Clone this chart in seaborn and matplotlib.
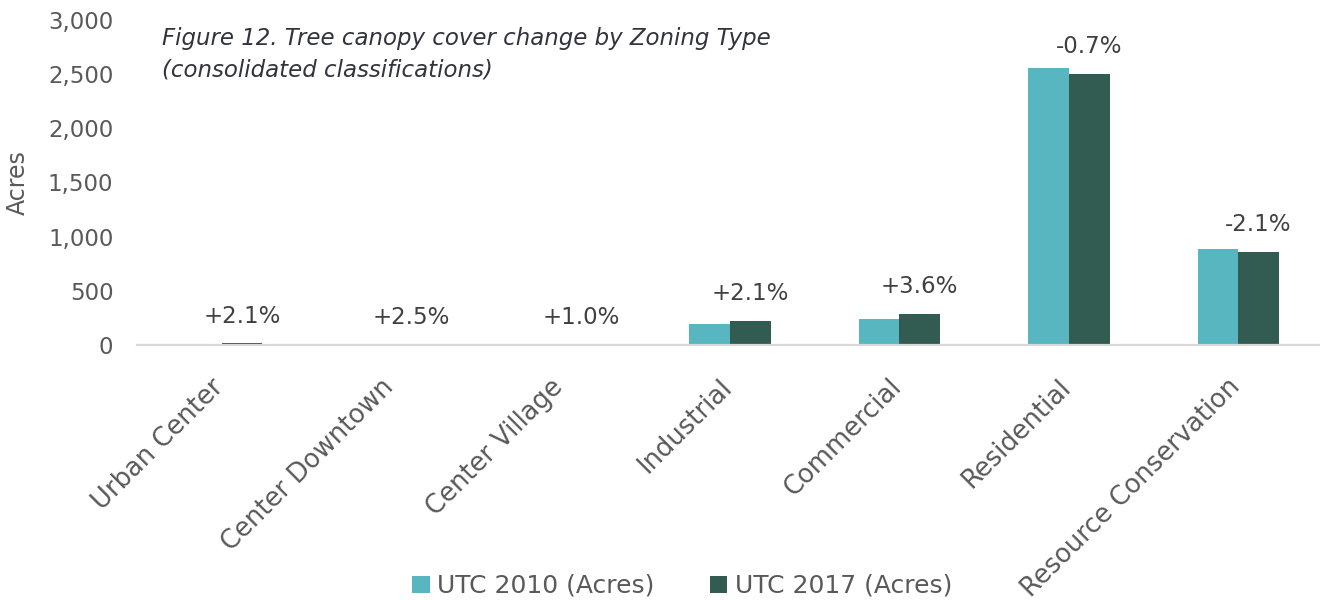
import matplotlib
matplotlib.use("Agg")
import matplotlib.pyplot as plt
import matplotlib.transforms as mtransforms
import seaborn as sns
import pandas as pd
from matplotlib.ticker import FuncFormatter, MultipleLocator
from matplotlib.patches import Patch

categories = ["Urban Center", "Center Downtown", "Center Village", "Industrial",
              "Commercial", "Residential", "Resource Conservation"]
utc_2010 = [6, 3, 4, 194, 240, 2557, 886]
utc_2017 = [15, 5, 5, 222, 290, 2503, 863]
change_labels = ["+2.1%", "+2.5%", "+1.0%", "+2.1%", "+3.6%", "-0.7%", "-2.1%"]
series_names = ["UTC 2010 (Acres)", "UTC 2017 (Acres)"]
colors = ["#58B6C0", "#325C52"]

sns.set_theme(style="white")
plt.rcParams['font.family'] = ['DejaVu Sans']

df = pd.DataFrame({
    "Zone": categories * 2,
    "Acres": utc_2010 + utc_2017,
    "Series": [series_names[0]] * len(categories) + [series_names[1]] * len(categories),
})

fig = plt.figure(figsize=(13.2, 6), dpi=100)
ax = fig.add_axes([137 / 1320, 1 - 345 / 600, (1323 - 137) / 1320, (345 - 20) / 600])

sns.barplot(data=df, x="Zone", y="Acres", hue="Series", palette=colors,
            width=0.48, saturation=1, linewidth=0, ax=ax, legend=False)

ax.set_ylim(0, 3000)
ax.set_xlim(-0.5, 6.5)
ax.yaxis.set_major_locator(MultipleLocator(500))
ax.yaxis.set_major_formatter(FuncFormatter(lambda v, p: f"{int(v):,}"))
for s in ["top", "right", "left"]:
    ax.spines[s].set_visible(False)
ax.spines["bottom"].set_color("#d9d9d9")
ax.spines["bottom"].set_linewidth(1.6)
ax.spines["bottom"].set_zorder(5)
ax.tick_params(axis="y", length=0, pad=17, labelsize=16.5, labelcolor="#595959")
ax.tick_params(axis="x", length=0, labelbottom=False)
ax.set_xlabel("")
ax.set_ylabel("Acres", fontsize=17, color="#595959")
ax.yaxis.set_label_coords(-0.09, 0.5)

# category labels, rotated 45 degrees, top-right corner anchored below each group
lab_tr = ax.get_xaxis_transform() + mtransforms.ScaledTranslation(-11 / 100, -29 / 100, fig.dpi_scale_trans)
for i, name in enumerate(categories):
    ax.text(i, 0, name, transform=lab_tr, rotation=45, rotation_mode="anchor",
            ha="right", va="top", fontsize=18.5, color="#595959")

for i, (v, lab) in enumerate(zip(utc_2017, change_labels)):
    ax.annotate(lab, xy=(i + 0.12, v), xytext=(0, 19.5), textcoords="offset points",
                ha="center", va="center", fontsize=16.5, color="#404040")

fig.text(162 / 1320, 1 - 27 / 600,
         "Figure 12. Tree canopy cover change by Zoning Type\n(consolidated classifications)",
         ha="left", va="top", fontsize=16.5, style="italic", color="#33333d",
         linespacing=1.45)

handles = [Patch(facecolor=c, edgecolor="none") for c in colors]
fig.legend(handles, series_names, loc="center", bbox_to_anchor=(682 / 1320, 1 - 586 / 600),
           ncol=2, frameon=False, fontsize=18, handlelength=0.7, handleheight=0.7,
           handletextpad=0.3, columnspacing=2.2, labelcolor="#595959")

fig.savefig("out.png", dpi=100)
